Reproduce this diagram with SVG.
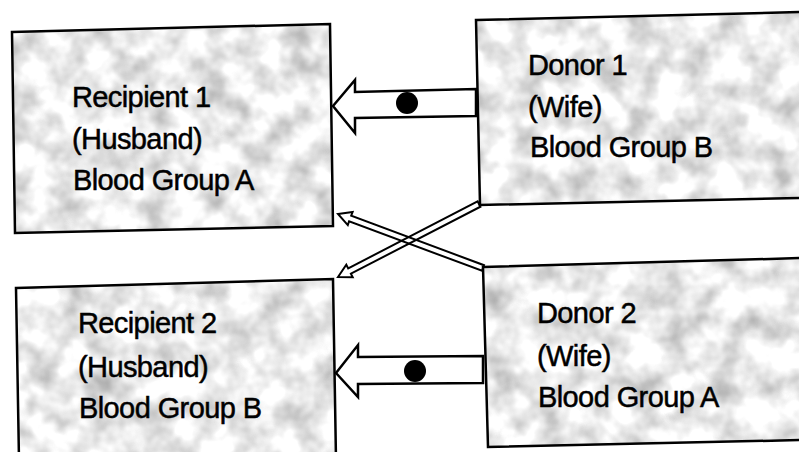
<svg xmlns="http://www.w3.org/2000/svg" width="799" height="452" viewBox="0 0 799 452">
<defs>
<style>
.box{stroke:#000;stroke-width:2.5;fill:none}
.tex{fill:#fff;filter:url(#tex)}
.lbl{font-family:"Liberation Sans",Arial,sans-serif;font-size:29px;letter-spacing:-0.6px;fill:#000;stroke:#000;stroke-width:0.5}
.blk{fill:#fff;stroke:#000;stroke-width:2.5;stroke-linejoin:miter}
.thin{fill:none;stroke:#000;stroke-width:2;stroke-linejoin:miter}
</style>
<filter id="tex" x="0" y="0" width="1" height="1">
<feTurbulence type="fractalNoise" baseFrequency="0.035" numOctaves="3" seed="7" result="n"/>
<feColorMatrix in="n" type="matrix" values="0 0 0 0 0.4  0 0 0 0 0.4  0 0 0 0 0.4  1.7 0 0 0 -0.62"/>
<feComposite in2="SourceGraphic" operator="in"/>
</filter>
</defs>
<rect width="799" height="452" fill="#fff"/>
<g id="recipient1">
<polygon class="tex" points="12,32 330,24 333,226 15,233"/>
<polygon class="box" points="12,32 330,24 333,226 15,233"/>
<text class="lbl" x="72" y="107">Recipient 1</text>
<text class="lbl" x="72" y="149">(Husband)</text>
<text class="lbl" x="73" y="190">Blood Group A</text>
</g>
<g id="donor1">
<polygon class="tex" points="476,20 802,12 802,198 480,205"/>
<polygon class="box" points="476,20 802,12 802,198 480,205"/>
<text class="lbl" x="528" y="75">Donor 1</text>
<text class="lbl" x="528" y="117">(Wife)</text>
<text class="lbl" x="530" y="157">Blood Group B</text>
</g>
<g id="recipient2">
<polygon class="tex" points="16,288 333,279 336,460 19,460"/>
<polygon class="box" points="16,288 333,279 336,460 19,460"/>
<text class="lbl" x="78" y="333">Recipient 2</text>
<text class="lbl" x="78" y="377">(Husband)</text>
<text class="lbl" x="79" y="418">Blood Group B</text>
</g>
<g id="donor2">
<polygon class="tex" points="483,267 802,258 802,440 488,447"/>
<polygon class="box" points="483,267 802,258 802,440 488,447"/>
<text class="lbl" x="537" y="323">Donor 2</text>
<text class="lbl" x="537" y="366">(Wife)</text>
<text class="lbl" x="538" y="407">Blood Group A</text>
</g>
<g id="connectors">
<polygon class="blk" points="333,106 355,80 355,92 476,89 476,116 355,118 355,133"/>
<circle cx="407" cy="103" r="11" fill="#000"/>
<polygon class="blk" points="336,373 358,345 358,357 483,356 483,383 358,384 358,397"/>
<circle cx="415" cy="371" r="11" fill="#000"/>
<polygon class="thin" points="338,214 352.6,212 351.2,215.7 484,265.2 482,270.8 349.1,221.3 347.8,225.1"/>
<polygon class="thin" points="338,277 346.3,264.8 348.2,268.4 477.6,201.3 480.4,206.7 350.9,273.7 352.7,277.2"/>
</g>
</svg>
